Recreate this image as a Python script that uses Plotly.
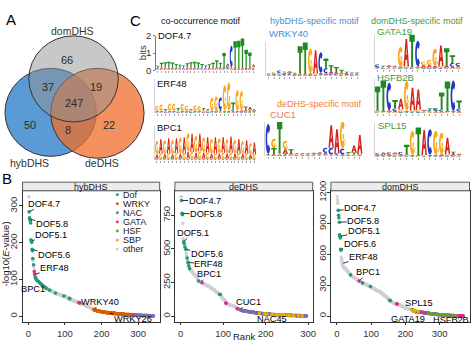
import math
import plotly.graph_objects as go

W, H = 474, 346
FONT = "Liberation Sans, Arial, Helvetica, sans-serif"


def nums(block):
    return [float(v) for v in block.split()]


def codes(block):
    return "".join(block.split())


# =========================== DATA ===========================
# ---- Panel A: Venn counts ----
venn_set_names = ["hybDHS", "deDHS", "domDHS"]
venn_region_keys = ["hyb", "de", "dom", "hyb_de", "hyb_dom", "de_dom", "all"]
venn_region_counts = [50, 22, 66, 8, 37, 19, 247]

# ---- Panel B: motif ranks ----
category_names = ["Dof", "WRKY", "NAC", "GATA", "HSF", "SBP", "other"]
category_codes = ["D", "W", "N", "G", "H", "S", "o"]
category_colors = ["#1b9e77", "#d95f02", "#7570b3", "#e7298a", "#66a61e", "#e6ab02", "#cfcfd6"]

hyb_values = nums("""
325 284 268 264 260 254 208 205 201 182
178 157 152 140 134 122 114 110 106 103
101 99 98 97 96 95 95 94 93 92
91 90 89 88 87 86 85 84 84 83
82 81 80 80 79 78 78 77 76 75
75 74 74 73 72 72 71 71 70 70
69 69 68 68 67 67 66 66 65 65
64 64 63 63 62 62 62 61 61 61
60 60 60 59 59 59 58 58 58 57
57 57 56 56 56 55 55 55 54 54
54 53 53 52 52 51 51 50 50 49
49 48 48 47 47 46 46 45 45 44
44 43 43 42 42 42 41 41 40 40
40 39 39 38 38 38 37 37 37 36
36 36 35 35 35 34 34 33 33 33
32 32 31 31 30 30 29 29 28 28
27 27 26 26 25 25 24 24 23 23
22 22 21 21 20 20 19 19 18 18
17 17 17 16 16 16 15 15 15 15
14 14 14 14 13 13 13 13 13 12
12 12 12 12 12 11 11 11 11 11
11 10 10 10 10 10 10 10 10 9
9 9 9 9 9 9 9 9 8 8
8 8 8 8 8 8 8 8 7 7
7 7 7 7 7 7 7 7 7 6
6 6 6 6 6 6 6 6 6 6
6 5 5 5 5 5 5 5 5 5
5 5 5 5 5 5 4 4 4 4
4 4 4 4 4 4 4 4 4 4
3 3 3 3 3 3 3 3 3 3
3 3 3 3 3 3 3 3 2 2
2 2 2 2 2 2 2 2 2 2
2 2 2 2 2 2 2 1 1 1
1 1 1 1 1 1 1 1 1 1
1 1
""")
hyb_categories = codes("""
oDDDDDDDDD DDoDoGGoDo DooDooDoDo ooDoDoDooD oDooDoooDo
oooooooDoo oooooooooo oooDoooooo oooooooooo ooooooDooo
oooooooooo oDDooooooo oooooooooo oooooooGGo Gooooooooo
oooooooooo oooooooooo ooooooooWW WWWWWWWWWW WWWWoWWWWW
WWWWWWWWWW WWWWWWoWWW WWWWWWWWWW WWWWWWWWoW WWWWWWWWWW
WWWWWWWWWW WWWWWWWWWW WWWWWWWWWW WWWWWGNNNN NNNNNNNNNN
NNNNNNNNNN NNNoNNNNNN NNNNNNNNNN NNNNNNNNNN NN
""")
hyb_labels = ["DOF4.7", "DOF5.8", "DOF5.1", "DOF5.6", "ERF48", "BPC1", "WRKY40", "WRKY26"]
hyb_label_ranks = [2, 4, 8, 10, 17, 31, 180, 220]

de_values = nums("""
888 860 765 755 690 575 553 540 525 515
505 497 470 450 432 420 400 390 375 362
354 348 344 341 338 335 330 326 322 318
314 310 306 302 299 296 293 290 285 275
268 262 259 257 256 255 253 252 250 249
247 245 243 241 239 237 235 233 231 229
228 227 226 226 225 223 221 218 216 213
211 208 206 204 202 200 198 196 194 192
190 187 184 181 178 175 172 170 167 165
163 162 161 158 152 146 140 135 130 126
123 121 120 119 118 98 96 94 92 90
88 87 86 85 84 83 82 81 80 79
78 77 76 75 74 73 72 70 68 66
63 60 56 55 54 53 52 51 50 48
46 45 44 43 42 41 40 40 39 39
38 38 37 37 36 36 35 35 34 34
33 33 32 32 31 31 30 30 29 29
28 28 27 27 26 26 25 25 24 24
23 23 22 22 22 21 21 21 20 20
20 19 19 19 18 18 18 17 17 17
16 16 16 16 15 15 15 15 14 14
14 14 13 13 13 13 12 12 12 12
12 11 11 11 11 11 10 10 10 10
10 10 9 9 9 9 9 9 8 8
8 8 8 8 8 7 7 7 7 7
7 7 7 6 6 6 6 6 6 6
6 6 5 5 5 5 5 5 5 5
5 5 4 4 4 4 4 4 4 4
4 4 3 3 3 3 3 3 3 3
3 3 2 2 2 2
""")
de_categories = codes("""
oDDDooDDoD oDooDoDoDo Dooooooooo oooooooooo oDoooooooG
oooooooooo oooooooooo oooooooooo oooooooooo oDDooooooo
oooooGGooo oooooooooo oooooooooo ooGGoooooN NNNNNNNNNN
NNNNNNNNNN NNNNNNNNNN NNNNNNNNNN NNNNSNNNNN NNNNNNNSNN
NNSNNNNNNN NNNNSSNNNN NNNSNNNNSN NSSNNNNSNN NNSNNSNNWN
NNSNNNSNNN NHNNNSNNNN NNNNNNSNNN NNNNNSNNNN NNNNNN
""")
de_labels = ["DOF4.7", "DOF5.8", "DOF5.1", "DOF5.6", "ERF48", "BPC1", "CUC1", "NAC45"]
de_label_ranks = [2, 3, 7, 12, 17, 47, 140, 175]

dom_values = nums("""
1160 1128 1098 1028 980 955 912 790 775 760
650 640 574 550 530 510 495 485 478 472
468 466 464 463 462 460 455 450 445 440
436 432 428 424 420 416 412 408 404 400
397 394 391 388 385 382 380 378 376 374
372 370 368 366 364 362 360 357 354 351
348 346 344 342 340 338 336 334 332 330
328 326 324 323 322 320 318 316 314 312
311 310 309 308 307 306 304 303 302 300
298 296 294 292 290 288 287 286 284 282
280 278 276 274 272 270 268 266 264 262
260 258 256 254 252 250 248 246 244 242
241 240 240 240 238 236 234 231 228 225
222 219 216 213 210 207 204 201 198 195
193 191 189 187 185 184 183 175 168 162
158 156 155 154 152 150 147 144 141 137
135 133 131 129 127 125 124 123 122 121
120 119 119 118 118 117 116 115 113 111
110 109 108 107 106 105 103 101 100 98
96 94 92 90 88 86 84 82 80 78
77 76 75 74 73 72 71 70 69 68
67 67 66 66 65 65 64 64 63 62
58 55 52 50 48 47 46 46 45 45
44 44 43 43 42 42 41 41 40 40
39 39 38 38 37 37 36 36 35 35
34 34 33 33 32 32 31 31 30 30
29 29 28 28 27 27 26 26 25 25
24 24 23 23 22 22 21 21 20 20
19 19 19 18 18 18 17 17 17 16
16 16 15 15 15 14 14 14 13 13
13 12 12 12 11 11 11 10 10 10
10 9 9 9 9 8 8 8 8 7
7 7 7 6 6 6 6 6 5 5
5 5 5 5 4 4 4 4 4 4
4 3 3 3 3 3 3 3 3 2
2 2 2 2 2 2 2 2 2 2
2 1 1 1 1 1 1 1 1
""")
dom_categories = codes("""
oooDDDDDDD DDoooooooo oooooooooo oooooooooD oooooooooo
oooooooooo ooooGooooo ooooDooooo oooooooooo oooooooDoo
oooooooooo oooooooooo oooooooooo oooooooooo oooooooooo
ooooDDoooo oooooooooo ooooGGoooo oooooooooo oooooooooo
oooooooooo ooooooooSo SWWSGGWSWS WSWSGWWSWN NWNNGNWNNN
NNWNNNGNNN NNNWNNNNHN NNNNNNHNNN NHNNNNNNNN NNHNNNNNNH
NNNNHNNNNN NNHNNNNNNN NNNNHNNNNN NNNNNGNNHN NNNNGNNHNN
NGNNGGNNGN GNGGNGGGN
""")
dom_labels = ["DOF4.7", "DOF5.8", "DOF5.1", "DOF5.6", "ERF48", "BPC1", "SPL15", "GATA19", "HSFB2B"]
dom_label_ranks = [4, 7, 9, 11, 16, 65, 219, 235, 300]

panel_titles = ["hybDHS", "deDHS", "domDHS"]
x_ticks = [0, 100, 200, 300]
hyb_y_ticks = [0, 100, 200, 300]
de_y_ticks = [0, 250, 500, 750]
dom_y_ticks = [0, 300, 600, 900, 1200]

# ---- Panel C: sequence logos (letter heights in 1/100 bits) ----
logo_names = ["DOF4.7", "ERF48", "BPC1", "WRKY40", "CUC1", "GATA19", "HSFB2B", "SPL15"]
dof47_logo = ["T12 A5 C5 G4", "T28 A6 C5 G4", "T32 A6 C5 G4", "T34 A6 C5 G4", "T30 A6 C5 G4",
              "T22 A6 C5 G4", "T18 A5 C5 G4", "T14 A5 C5 G4", "T26 A6 C5 G4", "T32 A6 C5 G4",
              "T34 A6 C5 G4", "T30 A6 C5 G4", "T22 A5 C5 G4", "T14 A5 C5 G4", "T20 A6 C5 G4",
              "T28 A6 C5 G4", "T38 A10 C6 G4", "T26 A8 C6 G4", "T80 A10 C6 G4", "A14 C10 G6 T8",
              "C125 T8 A6 G4", "T155 A6 C4 G3", "T160 A5 C4 G3", "T172 A5 C4 G3", "T105 A6 C5 G3",
              "T85 A8 C6 G4", "A14 G8 C6 T6"]
erf48_logo = ["G28 A6 C5 T4", "G36 A6 C5 T4", "T10 G6 A5 C4", "G40 A6 C5 T4", "G42 A6 C5 T4",
              "T14 G8 A5 C4", "G40 A6 C5 T4", "G28 A6 C5 T5", "A8 C6 G6 T5", "G30 A6 C5 T4",
              "G26 A6 C5 T4", "T14 G8 A5 C4", "A8 C6 G6 T5", "G75 A6 C5 T4", "G82 A6 C5 T5",
              "C72 T10 A5 G5", "G150 A6 C4 T4", "G168 A5 C4 T4", "T42 C10 A6 G5", "G120 A6 C5 T4",
              "G112 A8 C5 T5", "T18 A10 C6 G5", "A16 T10 C6 G5", "A8 C6 G5 T5"]
bpc1_logo = ["G80 A25 C4 T4", "A85 G30 C4 T4", "G80 A28 C4 T4", "A90 G30 C4 T4", "G85 A25 C4 T4",
             "A88 G32 C4 T4", "G95 A30 C4 T4", "A95 G30 C4 T4", "G110 A40 C4 T4", "A105 G40 C4 T4",
             "G100 A35 C4 T4", "A100 G45 C4 T4", "G90 A35 C4 T4", "A90 G35 C4 T4", "G85 A30 C4 T4",
             "A95 G30 C4 T4", "G90 A30 C4 T4", "A92 G35 C4 T4", "G85 A30 C4 T4", "A95 G35 C4 T4",
             "G80 A30 C4 T4", "A85 G30 C4 T4", "G75 A28 C4 T4", "A80 G28 C4 T4", "G65 A25 C4 T4",
             "A70 G25 C4 T4"]
wrky40_logo = ["C5 G5 A4 T4", "C6 G6 A5 T5", "C14 G8 A5 T5", "G10 A8 C6 T5", "T8 A8 G6 C6",
               "A6 G6 C5 T5", "T160 A5 C4 G4", "T185 A4 C3 G3", "G145 A8 C4 T4", "A135 G6 C4 T4",
               "C120 A8 G5 T5", "T55 C30 A10 G6", "T35 A14 C8 G6", "T28 A10 C8 G6", "T16 A8 C6 G6",
               "T8 A6 C6 G5", "T6 A5 C5 G5", "T6 A5 C5 G4"]
cuc1_logo = ["C175 T6 A4 G4", "G55 T35 A8 C5", "T185 G8 A5 C4", "G50 A25 T10 C6", "T22 A8 G6 C5",
             "A5 C5 G5 T5", "A5 C5 G5 T5", "A5 C5 G5 T5", "A6 C5 G5 T5", "A8 C6 G5 T5",
             "C30 A10 G5 T5", "A130 C40 G5 T5", "A140 C8 G5 T5", "G160 C35 A6 T5", "T8 A6 G6 C5",
             "A40 T12 G6 C5", "A110 G6 C4 T4"]
gata19_logo = ["C15 A5 G4 T4", "A5 C5 G5 T5", "A8 C5 G5 T5", "A6 C5 G5 T5", "G115 A6 C5 T5",
               "A160 G6 C5 T5", "T195 A4 C4 G4", "C150 A6 G5 T5", "G22 A12 C6 T5", "G30 A14 C6 T5",
               "G100 A10 C5 T5", "A120 G8 C5 T5", "T100 A12 C6 G5", "T45 C22 A10 G5", "C18 A8 G6 T5"]
hsfb2b_logo = ["T140 A6 C5 G5", "T178 A5 C4 G4", "C160 A8 G5 T5", "T50 C14 A8 G6", "A60 G14 C6 T5",
               "G175 A6 C4 T4", "A130 G8 C5 T5", "A118 G10 C6 T5", "A6 C5 G5 T5", "T10 C8 A5 G5",
               "C12 T8 A6 G5", "T100 C10 A6 G5", "T172 A5 C4 G4", "C178 A5 G4 T4", "T48 C16 A6 G5"]
spl15_logo = ["C8 A6 G5 T5", "A12 C6 G5 T5", "C10 A8 G5 T5", "A10 G8 C5 T5", "C14 A6 G5 T5",
              "T55 A8 C5 G5", "G140 A6 C4 T4", "T160 A5 C4 G4", "A145 G6 C4 T4", "C150 A6 G4 T4",
              "G140 A6 C5 T4", "G125 A8 C5 T5", "A95 G8 C5 T5", "T14 A8 C6 G5", "A6 C5 G5 T5"]

# ========================= LAYOUT / STYLE =========================
def px(x):
    return x / W


def py(y):
    return 1 - y / H


def ann(text, x, y, size=10, color="#000", xanchor="center", yanchor="middle", **kw):
    return dict(text=text, x=px(x), y=py(y), xref="paper", yref="paper", showarrow=False,
                font=dict(family=FONT, size=size, color=color), xanchor=xanchor, yanchor=yanchor,
                borderpad=0, **kw)


fig = go.Figure()
shapes = []
annotations = []
layout_axes = {}

# ---------- Panel A: Venn ----------
layout_axes["xaxis"] = dict(domain=[0, px(150)], range=[0, 150], visible=False, anchor="y")
layout_axes["yaxis"] = dict(domain=[py(170), 1], range=[170, 0], visible=False, anchor="x")
fig.add_trace(go.Scatter(x=[0], y=[0], mode="markers", marker=dict(opacity=0), hoverinfo="skip",
                         showlegend=False, xaxis="x", yaxis="y"))
venn_geom = {"hybDHS": (51, 107, 46), "deDHS": (98, 108, 47), "domDHS": (74, 72, 45)}
venn_fill = {"hybDHS": "rgba(36,122,199,0.75)", "deDHS": "rgba(240,108,40,0.75)",
             "domDHS": "rgba(145,145,145,0.5)"}
for s in venn_set_names:
    cx, cy, r = venn_geom[s]
    shapes.append(dict(type="circle", xref="x", yref="y", x0=cx - r, x1=cx + r, y0=cy - r, y1=cy + r,
                       fillcolor=venn_fill[s], line=dict(color="#333333", width=1), layer="above"))
venn_label_pos = {"hybDHS": (30, 160), "deDHS": (103, 160), "domDHS": (73, 22)}
for s in venn_set_names:
    x, y = venn_label_pos[s]
    annotations.append(dict(text=s, x=x, y=y, xref="x", yref="y", showarrow=False,
                            font=dict(family=FONT, size=10.5, color="#333")))
venn_region_pos = {"hyb": (30, 120), "de": (110, 120), "dom": (67, 52), "hyb_de": (68, 125),
                   "hyb_dom": (48, 80), "de_dom": (97, 80), "all": (74, 97)}
for k, c in zip(venn_region_keys, venn_region_counts):
    x, y = venn_region_pos[k]
    annotations.append(dict(text=str(c), x=x, y=y, xref="x", yref="y", showarrow=False,
                            font=dict(family=FONT, size=11, color="#2b2b2b")))

# ---------- Panel B: rank plots ----------
panels = [
    (hyb_values, hyb_categories, hyb_labels, hyb_label_ranks, hyb_y_ticks),
    (de_values, de_categories, de_labels, de_label_ranks, de_y_ticks),
    (dom_values, dom_categories, dom_labels, dom_label_ranks, dom_y_ticks),
]
panel_x_px = [(22.7, 160.7), (176, 314.7), (333, 472.5)]
panel_y_px = (189, 326)
strip_top = 180
label_offsets = [
    [(15, -8), (22, 5), (20, -6), (22, 6), (20, -6), (-7, 6), (6, -8), (24, 6)],
    [(23, 0), (24, 1), (9, -9), (21, 5), (21, 2), (8, -8), (8, -8), (17, 6)],
    [(22, -2), (24, -1), (24, -5), (19, -5), (21, -7), (9, -9), (7, -7), (-9, 7), (11, 5)],
]
draw_order = ["o", "D", "W", "N", "G", "H", "S"]
code_color = dict(zip(category_codes, category_colors))

for i, (vals, cats, labs, lranks, yticks) in enumerate(panels):
    n = len(vals)
    assert len(cats) == n, (i, len(cats), n)
    aid = 10 + i
    ranks = list(range(1, n + 1))
    for code in draw_order:
        idx = [j for j in range(n) if cats[j] == code]
        if not idx:
            continue
        fig.add_trace(go.Scatter(x=[ranks[j] for j in idx], y=[vals[j] for j in idx], mode="markers",
                                 marker=dict(size=3.6, color=code_color[code], line=dict(width=0)),
                                 xaxis=f"x{aid}", yaxis=f"y{aid}", showlegend=False, hoverinfo="skip"))
    ex = 0.05 * (n - 1)
    mn, mx = min(vals), max(vals)
    ey = 0.05 * (mx - mn)
    x0, x1 = panel_x_px[i]
    common = dict(showline=True, linecolor="#333", linewidth=0.8, mirror=True, showgrid=False,
                  zeroline=False, ticks="outside", ticklen=2.5, tickwidth=0.8, tickcolor="#333",
                  tickfont=dict(family=FONT, size=9.5, color="#333"))
    layout_axes[f"xaxis{aid}"] = dict(domain=[px(x0), px(x1)], range=[1 - ex, n + ex], tickvals=x_ticks,
                                      anchor=f"y{aid}", **common)
    layout_axes[f"yaxis{aid}"] = dict(domain=[py(panel_y_px[1]), py(panel_y_px[0])],
                                      range=[mn - ey, mx + ey], tickvals=yticks, tickangle=-90,
                                      ticklabelstandoff=-2, anchor=f"x{aid}", **common)
    # strip
    shapes.append(dict(type="rect", xref="paper", yref="paper", x0=px(x0), x1=px(x1),
                       y0=py(panel_y_px[0]), y1=py(strip_top), fillcolor="#ececec",
                       line=dict(color="#333", width=0.8)))
    annotations.append(ann(panel_titles[i], (x0 + x1) / 2, (strip_top + panel_y_px[0]) / 2 + 0.5,
                           size=9, color="#1a1a1a"))
    for lab, r, (axo, ayo) in zip(labs, lranks, label_offsets[i]):
        annotations.append(dict(text=lab, x=r, y=vals[r - 1], xref=f"x{aid}", yref=f"y{aid}",
                                ax=axo, ay=ayo, showarrow=True, arrowhead=0, arrowwidth=0.8,
                                arrowcolor="#000", standoff=1, borderpad=0,
                                font=dict(family=FONT, size=9.2, color="#000")))

# legend (inside first panel): keys drawn as small circles, names as text
for k, (name, color) in enumerate(zip(category_names, category_colors)):
    yy = 193 + 9.5 * k
    shapes.append(dict(type="circle", xref="paper", yref="paper", x0=px(116.6), x1=px(119.6),
                       y0=py(yy + 1.5), y1=py(yy - 1.5), fillcolor=color, line=dict(width=0)))
    annotations.append(ann(name, 123, yy, size=9, color="#1a1a1a", xanchor="left"))

annotations.append(ann("-log10(<i>E</i>-value)", 5.5, 255, size=9.5, color="#1a1a1a", textangle=-90))
annotations.append(ann("Rank", 246, 341, size=9.5, color="#1a1a1a"))

# ---------- Panel C: sequence logos ----------
def arc_pts(a0, a1, rx, ry, n=14):
    return [(0.5 + rx * math.cos(math.radians(a0 + (a1 - a0) * t / n)),
             0.5 + ry * math.sin(math.radians(a0 + (a1 - a0) * t / n))) for t in range(n + 1)]


GLYPHS = {
    "T": [[(0, 1), (1, 1), (1, 0.76), (0.68, 0.76), (0.68, 0), (0.32, 0), (0.32, 0.76), (0, 0.76)]],
    "A": [[(0, 0), (0.28, 0), (0.36, 0.25), (0.64, 0.25), (0.72, 0), (1, 0), (0.65, 1), (0.35, 1)],
          [(0.42, 0.43), (0.5, 0.72), (0.58, 0.43)]],
    "C": [arc_pts(45, 315, 0.5, 0.5) + arc_pts(315, 45, 0.2, 0.24)],
    "G": [arc_pts(45, 335, 0.5, 0.5) + arc_pts(335, 45, 0.2, 0.24),
          [(0.52, 0.28), (1.0, 0.28), (1.0, 0.52), (0.52, 0.52)],
          [(0.76, 0.1), (1.0, 0.1), (1.0, 0.52), (0.76, 0.52)]],
}
LETTER_COLORS = {"A": "#d8231f", "C": "#2238c8", "G": "#f7a81b", "T": "#1f8a1f"}


def parse_col(s):
    return [(t[0], int(t[1:]) / 100.0) for t in s.split()]


logo_data = [dof47_logo, erf48_logo, bpc1_logo, wrky40_logo, cuc1_logo, gata19_logo, hsfb2b_logo, spl15_logo]
logo_boxes = [(157, 257, 27, 63), (156, 258, 72, 108), (156, 258, 121, 157), (268, 362, 33, 69),
              (267, 365, 117, 153), (377, 464, 26, 62), (377, 465, 72, 108), (377, 465, 118, 154)]

for k, (name, cols, box) in enumerate(zip(logo_names, logo_data, logo_boxes)):
    aid = 2 + k
    L = len(cols)
    bx0, bx1, btop, bbase = box
    first = (k == 0)
    layout_axes[f"xaxis{aid}"] = dict(domain=[px(bx0), px(bx1)], range=[0.5, L + 0.5],
                                      tickvals=list(range(1, L + 1)), ticks="outside", ticklen=2,
                                      tickwidth=0.8, tickcolor="#aaaaaa", showticklabels=False,
                                      showline=False, showgrid=False, zeroline=False, anchor=f"y{aid}")
    layout_axes[f"yaxis{aid}"] = dict(domain=[py(bbase), py(btop)], range=[0, 2], showgrid=False,
                                      zeroline=False, anchor=f"x{aid}", showline=True,
                                      linecolor="#777" if first else "#d5d5d5", linewidth=0.8,
                                      tickvals=[0, 1, 2], ticks="outside" if first else "",
                                      ticklen=2, tickcolor="#777", showticklabels=first,
                                      tickfont=dict(family=FONT, size=9.5, color="#333"))
    fig.add_trace(go.Scatter(x=[1], y=[0], mode="markers", marker=dict(opacity=0), hoverinfo="skip",
                             showlegend=False, xaxis=f"x{aid}", yaxis=f"y{aid}"))
    for pos, col in enumerate(cols, start=1):
        stack = sorted(parse_col(col), key=lambda t: t[1])
        y0 = 0.0
        for letter, h in stack:
            parts = []
            for poly in GLYPHS[letter]:
                pts = [(pos - 0.47 + 0.94 * u, y0 + h * v) for u, v in poly]
                parts.append("M" + "L".join(f"{a:.3f},{b:.4f}" for a, b in pts) + "Z")
            shapes.append(dict(type="path", xref=f"x{aid}", yref=f"y{aid}", path="".join(parts),
                               fillcolor=LETTER_COLORS[letter], line=dict(width=0), layer="above"))
            y0 += h

# logo captions and titles
annotations.append(ann("bits", 143, 45, size=9.5, color="#333", textangle=-90))
annotations.append(ann("co-occurrence motif", 202, 11, size=9, color="#111"))
annotations.append(ann("hybDHS-specific motif", 316, 11, size=9, color="#3f8fd2"))
annotations.append(ann("domDHS-specific motif", 420, 11, size=9, color="#3d9a47"))
annotations.append(ann("deDHS-specific motif", 322, 98, size=9, color="#f07c3c"))
logo_label_pos = [(158, 27, "#111"), (157, 77, "#111"), (157, 123, "#111"), (270, 25, "#3f8fd2"),
                  (271, 109, "#f07c3c"), (378, 22, "#3d9a47"), (378, 71, "#3d9a47"), (379, 121, "#3d9a47")]
for name, (x, y, c) in zip(logo_names, logo_label_pos):
    annotations.append(ann(name, x, y, size=9.5, color=c, xanchor="left"))

# panel letters
annotations.append(ann("A", 11, 10, size=15, color="#000"))
annotations.append(ann("C", 136, 11, size=15, color="#000"))
annotations.append(ann("B", 7, 176, size=15, color="#000"))

fig.update_layout(width=W, height=H, margin=dict(l=0, r=0, t=0, b=0), paper_bgcolor="white",
                  plot_bgcolor="white", showlegend=False, font=dict(family=FONT),
                  shapes=shapes, annotations=annotations, **layout_axes)
fig.write_html("out.html")
